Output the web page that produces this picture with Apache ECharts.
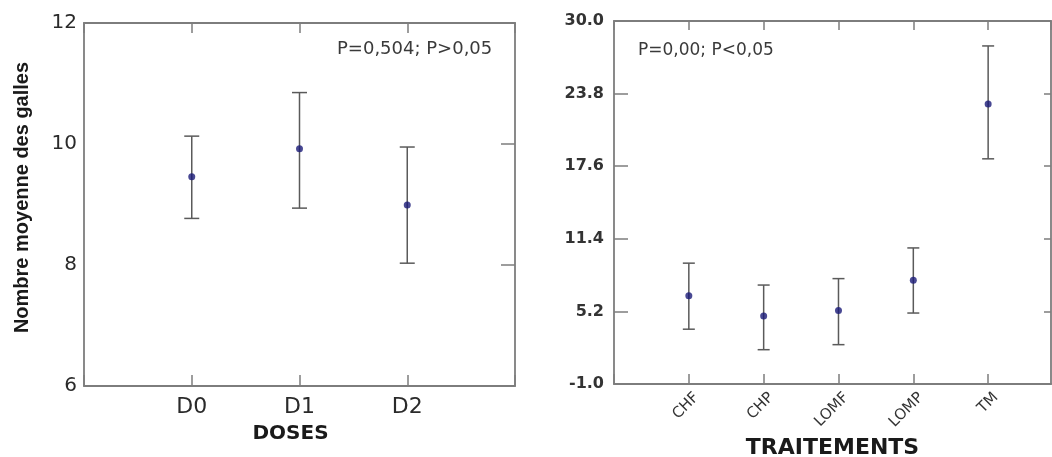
<!DOCTYPE html>
<html>
<head>
<meta charset="utf-8">
<script src="https://cdn.jsdelivr.net/npm/echarts@6/dist/echarts.min.js"></script>
<style>
html,body{margin:0;padding:0;background:#fff;}
#chart{width:1052px;height:457px;}
</style>
</head>
<body>
<div id="chart"></div>
<script>
// ---- Data ----
const doseCats = ['D0', 'D1', 'D2'];
const doseMean = [9.46, 9.92, 8.99];
const doseLow  = [8.77, 8.94, 8.03];
const doseHigh = [10.13, 10.85, 9.95];

const trtCats = ['CHF', 'CHP', 'LOMF', 'LOMP', 'TM'];
const trtMean = [6.53, 4.80, 5.28, 7.87, 22.92];
const trtLow  = [3.68, 1.93, 2.36, 5.06, 18.23];
const trtHigh = [9.32, 7.45, 8.00, 10.62, 27.87];

const doseNote = 'P=0,504; P>0,05';
const trtNote = 'P=0,00; P<0,05';
const doseAxisName = 'DOSES';
const trtAxisName = 'TRAITEMENTS';
const yAxisName = 'Nombre moyenne des galles';

// ---- Build ----
const frameColor = '#7d7d7d';
const barColor = '#5a5a5a';
const dotColor = '#1a1a78';

function errData(means, lows, highs) {
  return means.map((m, i) => [i + 1, m, lows[i], highs[i]]);
}
function pointData(means) {
  return means.map((m, i) => [i + 1, m]);
}
function errRender(capHalf) {
  return function (params, api) {
    const x = api.value(0);
    const lo = api.coord([x, api.value(2)]);
    const hi = api.coord([x, api.value(3)]);
    const st = { stroke: barColor, lineWidth: 1.5 };
    return {
      type: 'group',
      children: [
        { type: 'line', shape: { x1: lo[0], y1: lo[1], x2: hi[0], y2: hi[1] }, style: st },
        { type: 'line', shape: { x1: lo[0] - capHalf, y1: lo[1], x2: lo[0] + capHalf, y2: lo[1] }, style: st },
        { type: 'line', shape: { x1: hi[0] - capHalf, y1: hi[1], x2: hi[0] + capHalf, y2: hi[1] }, style: st }
      ]
    };
  };
}
function catFormatter(cats) {
  return function (v) {
    const i = Math.round(v) - 1;
    if (Math.abs(v - Math.round(v)) > 1e-6) return '';
    return cats[i] !== undefined ? cats[i] : '';
  };
}
const axisLine = { show: true, onZero: false, lineStyle: { color: frameColor, width: 1.8 } };

const chart = echarts.init(document.getElementById('chart'), null, { renderer: 'canvas' });
const option = {
  animation: false,
  backgroundColor: '#ffffff',
  grid: [
    { left: 84, right: 1052 - 515, top: 23, bottom: 457 - 386, containLabel: false, outerBoundsMode: 'none' },
    { left: 614, right: 1, top: 21, bottom: 457 - 384, containLabel: false, outerBoundsMode: 'none' }
  ],
  xAxis: [
    {
      gridIndex: 0, type: 'value', position: 'bottom', min: 0, max: doseCats.length + 1, interval: 1,
      axisLine: axisLine, splitLine: { show: false },
      axisTick: { show: true, inside: true, length: 11, lineStyle: { color: frameColor, width: 1.5 } },
      axisLabel: { formatter: catFormatter(doseCats), fontFamily: 'DejaVu Sans', fontSize: 22, color: '#2a2a2a', margin: 10 },
      name: doseAxisName, nameLocation: 'middle', nameGap: 38,
      nameTextStyle: { fontFamily: 'DejaVu Sans', fontWeight: 'bold', fontSize: 20, color: '#1a1a1a', padding: [0, 18, 0, 0] }
    },
    {
      gridIndex: 0, type: 'value', position: 'top', min: 0, max: doseCats.length + 1, interval: 1,
      axisLine: axisLine, splitLine: { show: false },
      axisTick: { show: true, inside: true, length: 10, lineStyle: { color: frameColor, width: 1.5 } },
      axisLabel: { show: false }
    },
    {
      gridIndex: 1, type: 'value', position: 'bottom', min: 0, max: 5.84, interval: 1,
      axisLine: axisLine, splitLine: { show: false },
      axisTick: { show: true, inside: true, length: 10, lineStyle: { color: frameColor, width: 1.5 } },
      axisLabel: { formatter: catFormatter(trtCats), rotate: 45, fontFamily: 'DejaVu Sans', fontSize: 15, color: '#333', margin: 19, padding: [23, -11, 0, 0], showMaxLabel: false },
      name: trtAxisName, nameLocation: 'middle', nameGap: 52,
      nameTextStyle: { fontFamily: 'DejaVu Sans', fontWeight: 'bold', fontSize: 22, color: '#1a1a1a' }
    },
    {
      gridIndex: 1, type: 'value', position: 'top', min: 0, max: 5.84, interval: 1,
      axisLine: axisLine, splitLine: { show: false },
      axisTick: { show: true, inside: true, length: 9, lineStyle: { color: frameColor, width: 1.5 } },
      axisLabel: { show: false }
    }
  ],
  yAxis: [
    {
      gridIndex: 0, type: 'value', position: 'left', min: 6, max: 12, interval: 2,
      axisLine: axisLine, splitLine: { show: false }, axisTick: { show: false },
      axisLabel: { fontFamily: 'DejaVu Sans', fontSize: 20, color: '#2a2a2a', margin: 7 },
      name: yAxisName, nameLocation: 'middle', nameGap: 52, nameRotate: 90,
      nameTextStyle: { fontFamily: 'Liberation Sans', fontWeight: 'bold', fontSize: 20, color: '#1a1a1a', padding: [0, 0, 0, 14] }
    },
    {
      gridIndex: 0, type: 'value', position: 'right', min: 6, max: 12, interval: 2,
      axisLine: axisLine, splitLine: { show: false },
      axisTick: { show: true, inside: true, length: 14, lineStyle: { color: frameColor, width: 1.5 } },
      axisLabel: { show: false }
    },
    {
      gridIndex: 1, type: 'value', position: 'left', min: -1, max: 30, interval: 6.2,
      axisLine: axisLine, splitLine: { show: false },
      axisTick: { show: true, inside: true, length: 14, lineStyle: { color: frameColor, width: 1.5 } },
      axisLabel: { formatter: v => v.toFixed(1), fontFamily: 'DejaVu Sans', fontWeight: 'bold', fontSize: 16, color: '#333', margin: 10 }
    },
    {
      gridIndex: 1, type: 'value', position: 'right', min: -1, max: 30, interval: 6.2,
      axisLine: axisLine, splitLine: { show: false },
      axisTick: { show: true, inside: true, length: 7, lineStyle: { color: frameColor, width: 1.5 } },
      axisLabel: { show: false }
    }
  ],
  series: [
    { type: 'custom', xAxisIndex: 0, yAxisIndex: 0, data: errData(doseMean, doseLow, doseHigh), renderItem: errRender(7.5), z: 2 },
    { type: 'scatter', xAxisIndex: 0, yAxisIndex: 0, data: pointData(doseMean), symbolSize: 7, itemStyle: { color: dotColor }, z: 3 },
    { type: 'custom', xAxisIndex: 2, yAxisIndex: 2, data: errData(trtMean, trtLow, trtHigh), renderItem: errRender(6), z: 2 },
    { type: 'scatter', xAxisIndex: 2, yAxisIndex: 2, data: pointData(trtMean), symbolSize: 7, itemStyle: { color: dotColor }, z: 3 }
  ],
  graphic: [
    { type: 'text', left: 337, top: 40, style: { text: doseNote, font: '18px "DejaVu Sans"', fill: '#3a3a3a' } },
    { type: 'text', left: 638, top: 42, style: { text: trtNote, font: '17px "DejaVu Sans"', fill: '#3a3a3a' } }
  ]
};
chart.setOption(option);
</script>
</body>
</html>
